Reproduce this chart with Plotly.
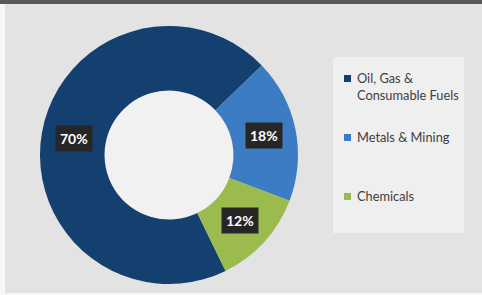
import math
import plotly.graph_objects as go

categories = ["Oil, Gas &<br>Consumable Fuels", "Metals & Mining", "Chemicals"]
shares = [70, 18, 12]
colors = ["#14406F", "#3C7CC3", "#9BBB4F"]

W, H = 482, 295
rotation = 154
hole = 0.5
dom_x = [40 / W, 298 / W]
dom_y = [11 / H, 269 / H]

fig = go.Figure()
fig.add_trace(go.Pie(
    labels=categories, values=shares, sort=False, direction="clockwise",
    rotation=rotation, hole=hole, textinfo="none", hoverinfo="label+percent",
    marker=dict(colors=colors, line=dict(width=0)),
    domain=dict(x=dom_x, y=dom_y), showlegend=False,
))

# data labels at ring mid-radius, computed from the values
cx = (dom_x[0] + dom_x[1]) / 2 * W
cy = (dom_y[0] + dom_y[1]) / 2 * H
r_out = (dom_y[1] - dom_y[0]) * H / 2
r_mid = r_out * (1 + hole) / 2
r_in = r_out * hole
total = sum(shares)
start = rotation
annotations = []
for v in shares:
    span = v / total * 360
    mid = math.radians(start + span / 2)
    px = cx + r_mid * math.sin(mid)
    py = cy + r_mid * math.cos(mid)
    annotations.append(dict(
        x=px / W, y=py / H, xref="paper", yref="paper", showarrow=False,
        xanchor="center", yanchor="middle",
        text=f"<b>{round(v / total * 100)}%</b>",
        font=dict(family="Lato, Open Sans, sans-serif", size=14, color="white"),
        bgcolor="#262626", borderpad=4,
    ))
    start += span

# legend entries drawn as annotations inside a light box
legend_y = [86, 137, 196]
for name, col, ly in zip(categories, colors, legend_y):
    first_line_y = ly - (8 if "<br>" in name else 0)
    annotations.append(dict(
        x=355 / W, y=1 - ly / H, xref="paper", yref="paper", showarrow=False,
        xanchor="left", yanchor="middle", align="left",
        text=name, font=dict(family="Lato, Open Sans, sans-serif", size=12.8, color="#404040"),
    ))
    fig.add_shape(type="rect", xref="paper", yref="paper",
                  x0=344 / W, x1=351 / W,
                  y0=1 - (first_line_y + 4) / H, y1=1 - (first_line_y - 3) / H,
                  fillcolor=col, line=dict(width=0))

shapes = [
    dict(type="rect", xref="paper", yref="paper", x0=333 / W, x1=464 / W,
         y0=1 - 233 / H, y1=1 - 57 / H, fillcolor="#EFEFEF", line=dict(width=0), layer="below"),
    dict(type="circle", xref="paper", yref="paper",
         x0=(cx - r_in) / W, x1=(cx + r_in) / W, y0=(cy - r_in) / H, y1=(cy + r_in) / H,
         fillcolor="#F1F1F1", line=dict(width=0), layer="below"),
    dict(type="rect", xref="paper", yref="paper", x0=0, x1=1, y0=1 - 4 / H, y1=1,
         fillcolor="#595959", line=dict(width=0)),
    dict(type="rect", xref="paper", yref="paper", x0=0, x1=5 / W, y0=0, y1=1 - 4 / H,
         fillcolor="#F7F7F7", line=dict(width=0)),
    dict(type="rect", xref="paper", yref="paper", x0=0, x1=1, y0=0, y1=2 / H,
         fillcolor="#F7F7F7", line=dict(width=0)),
]
for s in shapes:
    fig.add_shape(**s)

fig.update_layout(
    width=W, height=H, margin=dict(l=0, r=0, t=0, b=0),
    paper_bgcolor="#E3E3E3", plot_bgcolor="#E3E3E3",
    annotations=annotations,
)
fig.write_html("out.html", config={"displayModeBar": False},
               post_script="document.body.style.margin='0';document.body.style.overflow='hidden';")
